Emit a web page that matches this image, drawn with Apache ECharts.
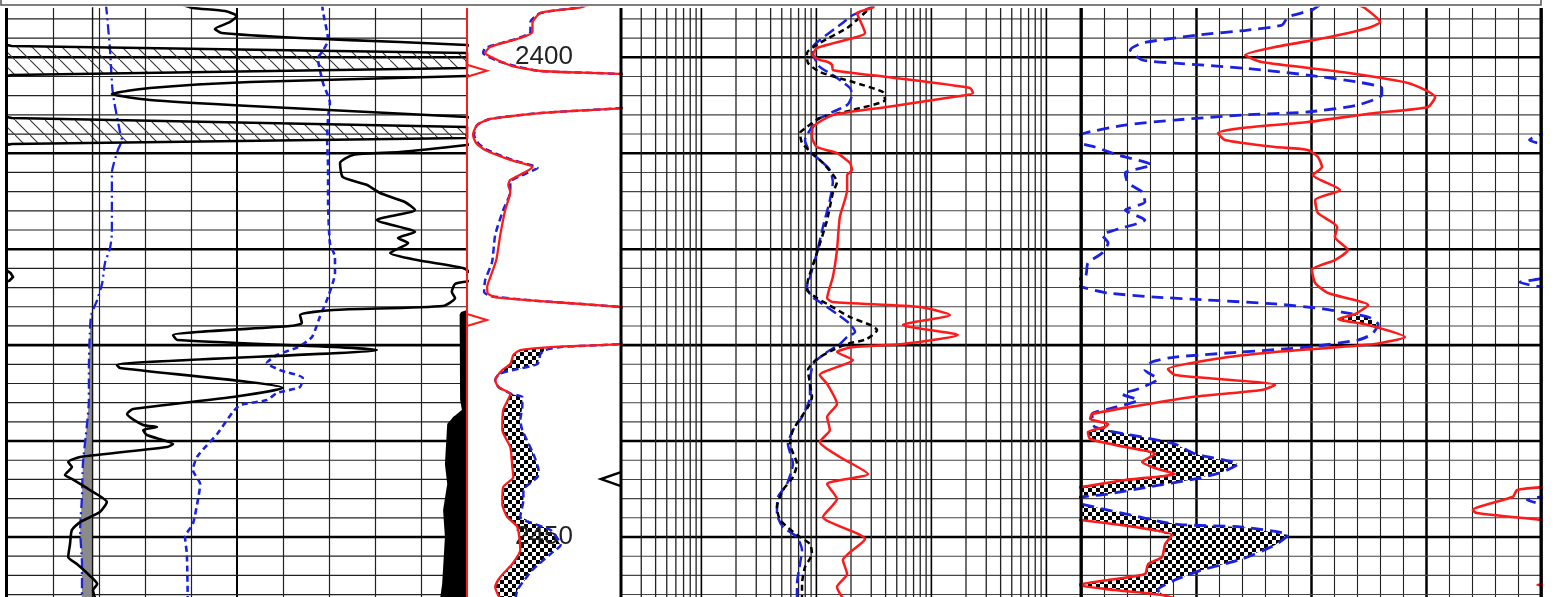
<!DOCTYPE html>
<html><head><meta charset="utf-8">
<script src="https://cdn.jsdelivr.net/npm/echarts@6.0.0/dist/echarts.min.js"></script>
<style>html,body{margin:0;padding:0;background:#fff;}#c{width:1554px;height:597px;}</style>
</head><body><div id="c"></div>
<script>
// ---------- DATA: [depth (m), value] ----------
// Track 1 (linear 0-100, wraps beyond 100)
const GR_T1 = [[2394.5,38],[2394.86,40.4],[2395.18,47.4],[2395.70,50.0],[2396.32,48.5],[2397.05,45.2],[2397.47,46.7],[2397.99,63.7],[2398.41,85.4],[2398.72,100],[2398.83,101],[2399.55,200],[2401.12,200],[2401.84,101],[2401.95,100],[2402.58,52.8],[2403.20,31.1],[2403.83,22.8],[2404.45,31.1],[2405.08,52.8],[2406.22,100],[2406.33,101],[2407.27,200],[2408.41,200],[2409.04,101],[2409.14,100],[2409.87,85.4],[2410.18,75.2],[2411.02,72.4],[2412.48,73.0],[2413.31,78.3],[2414.15,81.1],[2415.08,86.5],[2415.92,88.7],[2416.96,80.4],[2418.21,88.7],[2418.83,85.0],[2419.36,87.2],[2420.40,83.3],[2421.13,89.1],[2421.96,99.1],[2422.5,100.8],[2422.9,101.3],[2423.3,100.5],[2423.63,97.4],[2424.46,96.7],[2425.09,97.4],[2425.92,94.8],[2426.34,70.9],[2426.86,63.7],[2427.70,64.1],[2428.01,61.5],[2428.95,36.1],[2429.47,37.0],[2430.51,80.4],[2432.07,23.9],[2432.39,24.6],[2434.47,60.0],[2435.41,49.1],[2436.66,27.4],[2437.18,26.1],[2438.33,29.6],[2438.54,32.6],[2438.85,29.6],[2439.37,30.4],[2440.31,36.1],[2440.62,34.8],[2441.66,15.9],[2442.18,13.3],[2442.70,14.1],[2443.54,12.6],[2443.95,14.1],[2445.10,18.0],[2446.35,21.7],[2447.40,20.2],[2448.44,15.9],[2449.27,14.1],[2450.73,13.7],[2452.09,13.3],[2452.82,15.2],[2453.86,17.6],[2454.90,19.6],[2455.53,18.7],[2456.6,19.3]];
const CAL_T1 = [[2394.5,21.5],[2395.38,21.7],[2399.24,22.4],[2403.72,23.0],[2407.89,24.6],[2408.62,25.0],[2409.66,24.1],[2412.06,22.8],[2418.31,22.8],[2419.88,22.4],[2421.44,21.3],[2423.53,20.7],[2425.30,19.6],[2426.86,18.3],[2428.74,18.0],[2432.28,17.8],[2435.72,17.8],[2438.22,17.4],[2442.39,16.5],[2445.83,16.3],[2449.27,15.9],[2452.81,16.3],[2456.6,16.3]];
const BIT_T1 = [[2390,18.6],[2460,18.6]];
const DT_T1 = [[2394.5,68.5],[2395.28,68.7],[2398.20,69.8],[2399.45,68.5],[2400.07,67.6],[2402.68,68.7],[2404.76,70.2],[2406.22,69.8],[2408.62,69.6],[2411.44,69.8],[2414.88,69.8],[2419.36,70.2],[2420.82,71.3],[2422.48,71.3],[2424.98,69.8],[2427.07,68.0],[2429.15,66.3],[2430.20,63.3],[2431.03,58.7],[2431.86,56.5],[2432.59,59.3],[2433.43,64.3],[2434.37,63.7],[2434.99,58.7],[2435.72,56.5],[2436.24,50.7],[2436.97,49.1],[2439.26,45.7],[2440.41,43.5],[2441.66,41.3],[2443.02,40.4],[2444.48,42.0],[2446.14,41.5],[2448.65,40.4],[2450.00,38.7],[2451.77,39.1],[2456.6,39.3]];
const PAD_T1 = [[2426.35,100],[2426.55,98.7],[2426.8,98.4],[2435.72,98.5],[2436.76,98.9],[2437.49,97.0],[2438.22,95.7],[2442.39,95.2],[2444.48,95.7],[2447.19,94.8],[2450.00,95.2],[2454.90,94.6],[2456.6,94.1]];
// Track 2 (linear 0-100)
const RED_T2 = [[2394.5,80],[2394.86,71.9],[2395.38,47.7],[2396.43,42.5],[2397.36,42.5],[2397.99,34.6],[2398.93,15.0],[2399.55,11.8],[2400.07,17.0],[2400.91,29.4],[2401.43,47.7],[2401.74,100],[2402.5,150],[2404.5,150],[2405.29,100],[2405.81,47.7],[2406.43,15.0],[2407.06,6.5],[2408.10,3.9],[2408.93,5.9],[2409.66,11.8],[2410.70,28.1],[2411.43,42.5],[2411.96,37.9],[2412.79,28.1],[2413.31,26.8],[2414.04,28.1],[2415.92,24.8],[2418.52,21.6],[2421.13,19.0],[2422.98,15.0],[2423.94,13.1],[2424.6,13.5],[2425.0,18],[2425.3,39],[2425.61,65],[2426.03,100],[2426.8,150],[2428.8,150],[2429.88,100],[2430.20,54.2],[2430.51,34.6],[2431.03,30.1],[2431.97,28.1],[2432.59,22.9],[2433.64,18.3],[2434.37,20.3],[2435.10,28.1],[2436.76,23.5],[2438.85,22.9],[2440.62,28.1],[2442.70,29.4],[2443.75,30.1],[2444.79,23.5],[2446.56,22.9],[2447.91,26.1],[2448.96,32.7],[2451.36,34.6],[2452.81,29.4],[2454.17,21.6],[2455.21,18.3],[2456.6,22]];
const BLUE_T2 = [[2394.5,78],[2394.86,70.6],[2395.38,47.7],[2396.32,41.2],[2397.36,41.2],[2398.10,31.4],[2399.03,11.8],[2399.55,10.5],[2400.28,18.3],[2400.91,31.4],[2401.43,47.7],[2401.74,100],[2402.5,150],[2404.5,150],[2405.29,100],[2405.81,47.7],[2406.43,15.0],[2407.06,6.5],[2408.10,4.6],[2408.93,7.2],[2409.66,13.1],[2410.70,29.4],[2411.54,45.8],[2412.06,39.2],[2413.00,28.1],[2414.04,28.1],[2415.92,23.5],[2418.52,18.3],[2421.34,16.3],[2423.21,11.8],[2424.46,11.1],[2424.9,16],[2425.3,39],[2425.61,65],[2426.03,100],[2426.8,150],[2428.8,150],[2429.88,100],[2430.20,60.8],[2430.51,51.0],[2430.93,47.7],[2431.97,45.8],[2432.6,30],[2433.0,21],[2433.64,18.3],[2434.37,20.5],[2435.10,29],[2435.41,35.9],[2436.45,35.9],[2437.80,34.6],[2438.85,35.9],[2441.35,43.1],[2443.02,46.4],[2443.75,45.8],[2445.10,36.6],[2446.14,36.6],[2447.91,34.6],[2449.27,54.2],[2450.83,60.8],[2451.77,54.2],[2453.44,42.5],[2455.53,32.7],[2456.6,31.4]];
const MARK_RED_T2 = [2401.40, 2427.38];
const MARK_BLACK_T2 = [2443.96];
const DEPTH_LABELS = [2400, 2450];
// Track 3 (log 0.2-2000)
const RED_T3 = [[2394.5,33],[2394.86,30.5],[2395.38,22.5],[2396.11,23.9],[2397.47,26.5],[2397.89,22.5],[2399.03,10.1],[2399.76,9.35],[2400.28,10.7],[2400.49,12.6],[2400.80,13.7],[2401.32,13.9],[2402.05,41.1],[2403.20,217],[2403.72,230],[2404.14,154],[2405.18,41.1],[2406.02,13.9],[2407.26,9.35],[2408.31,9.16],[2409.35,10.1],[2409.98,15.1],[2411.02,19.6],[2411.75,20.4],[2412.27,18.5],[2413.83,18.5],[2416.65,16.0],[2420.09,15.1],[2422.90,13.9],[2425.09,12.4],[2425.51,13.9],[2426.03,79.6],[2426.86,145],[2427.90,56.6],[2428.95,170],[2429.88,56.6],[2430.20,20.8],[2430.72,15.1],[2431.55,20.8],[2433.11,10.7],[2434.05,12.4],[2436.14,15.1],[2437.49,12.4],[2438.85,13.1],[2440.10,10.7],[2441.66,16.0],[2443.43,28.1],[2444.48,12.4],[2446.04,15.1],[2447.91,11.4],[2450.21,26.5],[2452.40,17.0],[2453.86,18.5],[2455.21,15.1],[2456.6,17.5]];
const BLUE_T3 = [[2394.5,32],[2394.86,29.3],[2395.59,20.8],[2396.64,16.0],[2398.20,10.7],[2399.03,9.16],[2399.76,9.35],[2401.01,10.7],[2401.85,13.9],[2403.20,19.6],[2403.93,20.4],[2404.97,18.5],[2405.70,13.9],[2406.54,10.1],[2407.26,9.16],[2408.62,7.96],[2409.87,8.80],[2410.70,10.7],[2411.75,13.1],[2413.00,13.9],[2414.88,13.1],[2417.69,11.4],[2420.40,10.1],[2422.90,8.80],[2423.94,8.28],[2424.98,9.16],[2425.30,10.1],[2426.76,15.1],[2427.80,19.6],[2428.63,21.7],[2429.15,18.5],[2429.88,16.0],[2430.72,12.4],[2431.97,9.35],[2434.05,8.80],[2435.41,8.80],[2437.49,7.50],[2438.85,6.26],[2440.31,5.66],[2442.39,6.26],[2444.48,5.55],[2445.83,4.64],[2447.60,4.54],[2448.96,5.12],[2450.00,6.78],[2451.36,7.50],[2452.81,7.20],[2454.90,6.78],[2456.6,6.78]];
const BLACK_T3 = [[2394.5,32],[2394.86,29.3],[2396.11,22.5],[2396.95,18.5],[2398.51,10.7],[2399.55,8.28],[2400.59,8.45],[2401.53,10.7],[2402.58,20.8],[2403.62,37.9],[2404.45,39.5],[2405.49,20.8],[2406.33,10.7],[2407.26,8.28],[2407.89,7.20],[2408.93,7.50],[2409.98,9.16],[2411.02,11.4],[2413.00,15.1],[2414.15,13.9],[2416.96,12.4],[2420.40,10.1],[2423.21,8.45],[2424.25,8.28],[2425.09,10.1],[2425.71,12.4],[2427.07,19.6],[2427.90,29.3],[2428.42,33.7],[2429.36,27.5],[2429.88,18.5],[2430.51,13.9],[2431.45,10.1],[2432.59,8.45],[2434.05,8.80],[2435.41,9.16],[2436.45,8.45],[2438.85,6.26],[2440.31,5.90],[2442.39,6.78],[2443.75,6.26],[2445.10,5.12],[2446.87,4.54],[2448.23,4.83],[2449.79,6.78],[2450.73,8.80],[2451.77,9.16],[2453.13,7.96],[2454.90,7.50],[2456.6,7.50]];
// Track 4 (linear 0-100, wraps below 0)
const RED_T4 = [[2394.5,60],[2394.86,61.7],[2396.32,65.0],[2396.95,62.4],[2397.99,53.0],[2398.93,42.2],[2399.76,35.7],[2400.49,39.3],[2401.53,56.7],[2402.68,71.1],[2404.14,77.0],[2405.18,75.4],[2405.81,63.9],[2406.75,49.3],[2407.37,35.0],[2407.89,29.8],[2408.62,31.3],[2409.35,42.2],[2409.66,49.3],[2410.39,51.5],[2411.44,52.4],[2412.27,50.4],[2413.83,56.3],[2414.88,50.9],[2416.23,51.5],[2417.69,55.7],[2418.73,55.2],[2420.09,58.0],[2421.13,55.2],[2422.17,50.2],[2423.53,50.9],[2424.57,53.7],[2425.82,62.4],[2426.76,59.6],[2427.28,55.9],[2427.90,62.4],[2429.15,70.4],[2429.88,63.9],[2430.72,42.2],[2431.45,29.1],[2432.49,18.9],[2433.11,20.4],[2434.16,42.2],[2434.68,39.3],[2435.41,24.1],[2436.24,13.3],[2437.18,2.4],[2437.70,2.0],[2438.22,5.9],[2438.54,5.2],[2439.06,1.5],[2439.79,2.0],[2440.62,9.6],[2441.35,16.1],[2442.18,13.3],[2442.91,16.7],[2443.43,20.4],[2444.06,9.6],[2444.8,0],[2445.1,-5.2],[2445.8,-6.1],[2447.2,-14.8],[2447.5,-14],[2448.23,0],[2448.96,11.7],[2449.79,19.8],[2450.73,18.3],[2452.09,17.6],[2452.82,14.6],[2453.86,13.9],[2454.48,5.9],[2455.0,-0.8],[2455.53,7.4],[2456.05,17.6],[2456.6,22]];
const BLUE_T4 = [[2394.5,52],[2395.07,50.2],[2395.80,45.0],[2396.64,43.7],[2397.16,36.3],[2397.68,25.4],[2398.51,13.3],[2399.24,10.7],[2400.28,13.3],[2400.60,20.4],[2401.12,35.0],[2401.85,49.3],[2402.58,60.2],[2403.20,65.4],[2403.93,65.4],[2404.97,60.2],[2405.70,49.3],[2406.02,35.0],[2406.54,20.4],[2407.06,9.6],[2407.89,0.9],[2408.62,-2.5],[2409.35,3.0],[2410.18,8.0],[2411.23,15.4],[2412.06,9.6],[2413.10,10.2],[2414.04,13.3],[2415.08,13.9],[2415.92,9.6],[2416.96,13.9],[2418.00,7.4],[2418.52,4.6],[2419.36,5.9],[2420.40,4.6],[2421.44,1.5],[2422.90,0.9],[2423.45,-4.6],[2423.94,0],[2424.57,5.9],[2424.99,16.1],[2425.30,27.6],[2425.71,42.2],[2426.24,53.0],[2426.55,56.7],[2427.07,62.4],[2427.80,64.6],[2428.84,63.3],[2429.47,60.2],[2430.20,49.3],[2430.72,35.0],[2431.24,20.4],[2431.76,15.4],[2432.59,13.9],[2433.53,16.7],[2434.57,12.4],[2435.10,8.9],[2435.72,12.4],[2436.66,5.9],[2437.18,2.4],[2438.54,3.0],[2439.58,13.3],[2440.31,20.4],[2441.35,24.8],[2442.39,34.1],[2443.23,30.7],[2443.95,24.8],[2444.79,14.6],[2445.52,5.9],[2445.83,0],[2446.15,-3],[2446.56,0],[2447.19,5.9],[2448.65,20.4],[2448.96,35.0],[2449.79,45.0],[2450.83,42.2],[2452.29,35.0],[2453.44,26.3],[2454.48,20.4],[2455.53,16.7],[2456.25,18.3],[2456.6,19]];

// ---------- helpers ----------
const D_TOP = 2394.862, D_BOT = 2456.253;          // visible depth window
const TRACKS = [{left:7,width:460},{left:467,width:154},{left:621,width:460},{left:1081,width:460}];
const X_RANGE = [[0,100],[0,100],[0.2,2000],[0,100]];
const GRID_TOP = 8, GRID_H = 589;
const RED = '#ff1a1a', BLUE = '#1a22e0';

function interp(arr, d){
  const n = arr.length;
  if (d <= arr[0][0]) return arr[0][1];
  if (d >= arr[n-1][0]) return arr[n-1][1];
  for (let i=0;i<n-1;i++){
    const a=arr[i], b=arr[i+1];
    if (d>=a[0] && d<=b[0]){ const t=(b[0]-a[0])?(d-a[0])/(b[0]-a[0]):0; return a[1]+t*(b[1]-a[1]); }
  }
  return arr[n-1][1];
}
function depthsFor(d0, d1, arrs){
  const s = [];
  for (let d=d0; d<=d1+1e-9; d+=0.05) s.push(+d.toFixed(3));
  arrs.forEach(a => a.forEach(p => { if (p[0]>=d0 && p[0]<=d1) s.push(p[0]); }));
  return Array.from(new Set(s)).sort((a,b)=>a-b);
}
const clamp = (v,lo,hi)=>Math.max(lo,Math.min(hi,v));
function fillSeries(xIdx, depths, leftFn, rightFn, fill, z){
  return {
    type:'custom', xAxisIndex:xIdx, yAxisIndex:xIdx, z:z, silent:true, clip:true,
    data:[[50,(depths[0]+depths[depths.length-1])/2]],
    renderItem:(params, api)=>{
      const fwd=[], back=[];
      depths.forEach(d=>{
        const l = clamp(leftFn(d),0,100), r = clamp(Math.max(leftFn(d), rightFn(d)),0,100);
        fwd.push(api.coord([l,d])); back.push(api.coord([Math.max(l,r),d]));
      });
      return {type:'polygon', shape:{points:fwd.concat(back.reverse())}, style:{fill:fill}};
    }
  };
}
const xy = (arr, off)=>arr.map(p=>[p[1]+(off||0), p[0]]);
function line(xIdx, data, color, width, dash, z, smooth){
  return {type:'line', xAxisIndex:xIdx, yAxisIndex:xIdx, data:data, showSymbol:false, symbol:'none',
    smooth: smooth===undefined?0.2:smooth, clip:true, silent:true, z:z||3,
    lineStyle:{color:color, width:width, type: dash||'solid', cap:'butt', join:'round'}};
}
function pattern(kind){
  const c = document.createElement('canvas');
  const ctx = c.getContext('2d');
  if (kind==='checker'){
    c.width=8; c.height=8;
    ctx.fillStyle='#fff'; ctx.fillRect(0,0,8,8);
    ctx.fillStyle='#000'; ctx.fillRect(0,0,4,4); ctx.fillRect(4,4,4,4);
  } else {
    c.width=15; c.height=15;
    ctx.strokeStyle='#333'; ctx.lineWidth=1.1;
    ctx.beginPath(); ctx.moveTo(-2,-2); ctx.lineTo(17,17); ctx.stroke();
  }
  return {image:c, repeat:'repeat'};
}
const CHECK = pattern('checker'), HATCH = pattern('hatch');

// grid line values
const LOG_LINES = [];
[0.1,1,10,100,1000].forEach(b=>{ for(let k=1;k<=9;k++){ const v=+(k*b).toPrecision(3); if (v>0.2 && v<2000) LOG_LINES.push([v, k===1?1:0]); }});
const DEPTH_LINES = [];
for (let d=2396; d<=2456; d+=2) DEPTH_LINES.push([0, d, d%10===0?1:0]);

// ---------- axes ----------
const hidden = {axisLine:{show:false}, axisTick:{show:false}, axisLabel:{show:false}};
const yAxes = TRACKS.map((t,i)=>Object.assign({
  type:'value', gridIndex:i, inverse:true, min:D_TOP, max:D_BOT, splitLine:{show:false}
}, hidden));
const xAxes = [
  Object.assign({type:'value', gridIndex:0, min:0, max:100, interval:50,
    splitLine:{show:true, lineStyle:{color:'#000', width:2}},
    minorTick:{show:false, splitNumber:5},
    minorSplitLine:{show:true, lineStyle:{color:'#222', width:1.2}}}, hidden),
  Object.assign({type:'value', gridIndex:1, min:0, max:100, splitLine:{show:false}}, hidden),
  Object.assign({type:'log', logBase:10, gridIndex:2, min:0.2, max:2000, splitLine:{show:false}}, hidden),
  Object.assign({type:'value', gridIndex:3, min:0, max:100, interval:25,
    splitLine:{show:true, lineStyle:{color:'#000', width:2.5}},
    minorTick:{show:false, splitNumber:5},
    minorSplitLine:{show:true, lineStyle:{color:'#222', width:1.1}}}, hidden)
];

// ---------- series ----------
const series = [];
// horizontal depth grid lines for tracks 1,3,4
[0,2,3].forEach(i=>{
  series.push({type:'custom', xAxisIndex:i, yAxisIndex:i, z:1, silent:true, data:DEPTH_LINES,
    renderItem:(p, api)=>{
      const d = api.value(1), major = api.value(2);
      const a = api.coord([X_RANGE[i][0], d]), b = api.coord([X_RANGE[i][1], d]);
      return {type:'line', shape:{x1:a[0], y1:a[1], x2:b[0], y2:b[1]},
        style:{stroke: major?'#000':(i===0?'#222':'#444'), lineWidth: major?2.6:(i===0?1.2:1.1)}};
    }});
});
// Track 3 vertical log grid lines
series.push({type:'custom', xAxisIndex:2, yAxisIndex:2, z:1, silent:true, data:LOG_LINES,
  renderItem:(p, api)=>{
    const v = api.value(0), a = api.coord([v, D_TOP]), b = api.coord([v, D_BOT]);
    return {type:'line', shape:{x1:a[0], y1:a[1], x2:b[0], y2:b[1]},
      style:{stroke: api.value(1)?'#000':'#222', lineWidth: api.value(1)?1.6:1.3}};
  }});

// Track 1
series.push(fillSeries(0, depthsFor(2424, 2456.6, [CAL_T1]), d=>interp(CAL_T1,d), d=>interp(BIT_T1,d), '#8a8a8a', 2));
series.push(fillSeries(0, depthsFor(2398.5, 2409.3, [GR_T1]), d=>0, d=>Math.min(interp(GR_T1,d)-100,100), HATCH, 2));
series.push(fillSeries(0, depthsFor(PAD_T1[0][0], PAD_T1[PAD_T1.length-1][0], [PAD_T1]), d=>interp(PAD_T1,d), d=>100, '#000', 2));
series.push(line(0, xy(BIT_T1), '#111', 1.4, 'solid', 3, false));
series.push(line(0, xy(CAL_T1), BLUE, 2.3, [10,4,2,4], 4));
series.push(line(0, xy(DT_T1), BLUE, 2.6, [6,4], 4));
series.push(line(0, xy(GR_T1), '#000', 2.6, 'solid', 5));
series.push(line(0, xy(GR_T1, -100), '#000', 2.6, 'solid', 5, false));

// Track 2
series.push(fillSeries(1, depthsFor(2430, 2456.6, [RED_T2, BLUE_T2]), d=>interp(RED_T2,d), d=>interp(BLUE_T2,d), CHECK, 2));
series.push({type:'custom', xAxisIndex:1, yAxisIndex:1, z:3, silent:true, data:DEPTH_LABELS.map(d=>[0,d]),
  renderItem:(p, api)=>{
    const c = api.coord([0, api.value(1)]);
    return {type:'text', x:c[0]+48, y:c[1], style:{text:String(api.value(1)), fontSize:26,
      fontFamily:'Liberation Sans, Arial, sans-serif', fill:'#222', align:'left', verticalAlign:'middle',
      textAlign:'left', textVerticalAlign:'middle'}};
  }});
series.push(line(1, xy(BLUE_T2), BLUE, 2.5, [7,4], 3));
series.push(line(1, xy(RED_T2), RED, 2.3, 'solid', 4));
series.push({type:'custom', xAxisIndex:1, yAxisIndex:1, z:6, silent:true, data:MARK_RED_T2.map(d=>[0,d]),
  renderItem:(p, api)=>{ const c = api.coord([0, api.value(1)]);
    return {type:'polyline', shape:{points:[[c[0],c[1]-6],[c[0]+20,c[1]],[c[0],c[1]+6]]}, style:{stroke:RED, lineWidth:2, fill:null}}; }});
series.push({type:'custom', xAxisIndex:1, yAxisIndex:1, z:6, silent:true, data:MARK_BLACK_T2.map(d=>[100,d]),
  renderItem:(p, api)=>{ const c = api.coord([100, api.value(1)]);
    return {type:'polyline', shape:{points:[[c[0],c[1]-7],[c[0]-20,c[1]],[c[0],c[1]+7]]}, style:{stroke:'#000', lineWidth:2.5, fill:null}}; }});

// Track 3
series.push(line(2, xy(BLUE_T3), BLUE, 2.5, [11,5], 3));
series.push(line(2, xy(BLACK_T3), '#000', 2.5, [6,4], 4));
series.push(line(2, xy(RED_T3), RED, 2.5, 'solid', 5));

// Track 4
series.push(fillSeries(3, depthsFor(2394.5, 2456.6, [RED_T4, BLUE_T4]), d=>interp(RED_T4,d), d=>interp(BLUE_T4,d), CHECK, 2));
series.push(line(3, xy(BLUE_T4), BLUE, 2.8, [12,7], 3));
series.push(line(3, xy(BLUE_T4, 100), BLUE, 2.8, [12,7], 3));
series.push(line(3, xy(RED_T4), RED, 2.6, 'solid', 4));
series.push(line(3, xy(RED_T4, 100), RED, 2.6, 'solid', 4));

// ---------- frame ----------
const BOT = GRID_TOP + GRID_H;
const vline = (x, color, w)=>({type:'line', z:90, silent:true, shape:{x1:x, y1:GRID_TOP, x2:x, y2:BOT}, style:{stroke:color, lineWidth:w}});
const RIGHT = TRACKS[3].left+TRACKS[3].width;
const graphic = [
  {type:'polyline', z:101, silent:true, shape:{points:[[1,0],[1,5],[RIGHT,5],[RIGHT,0]]}, style:{stroke:'#555', lineWidth:1.5, fill:null}},
  vline(TRACKS[0].left-0.5, '#000', 3),
  vline(TRACKS[1].left, RED, 2),
  vline(TRACKS[2].left, '#000', 3),
  vline(TRACKS[3].left, '#000', 3),
  vline(RIGHT, '#000', 3)
];

const chart = echarts.init(document.getElementById('c'), null, {renderer:'canvas'});
chart.setOption({
  backgroundColor:'#fff', animation:false,
  grid: TRACKS.map(t=>({left:t.left, width:t.width, top:GRID_TOP, height:GRID_H, containLabel:false})),
  xAxis: xAxes, yAxis: yAxes, series: series, graphic: graphic
});
</script></body></html>
